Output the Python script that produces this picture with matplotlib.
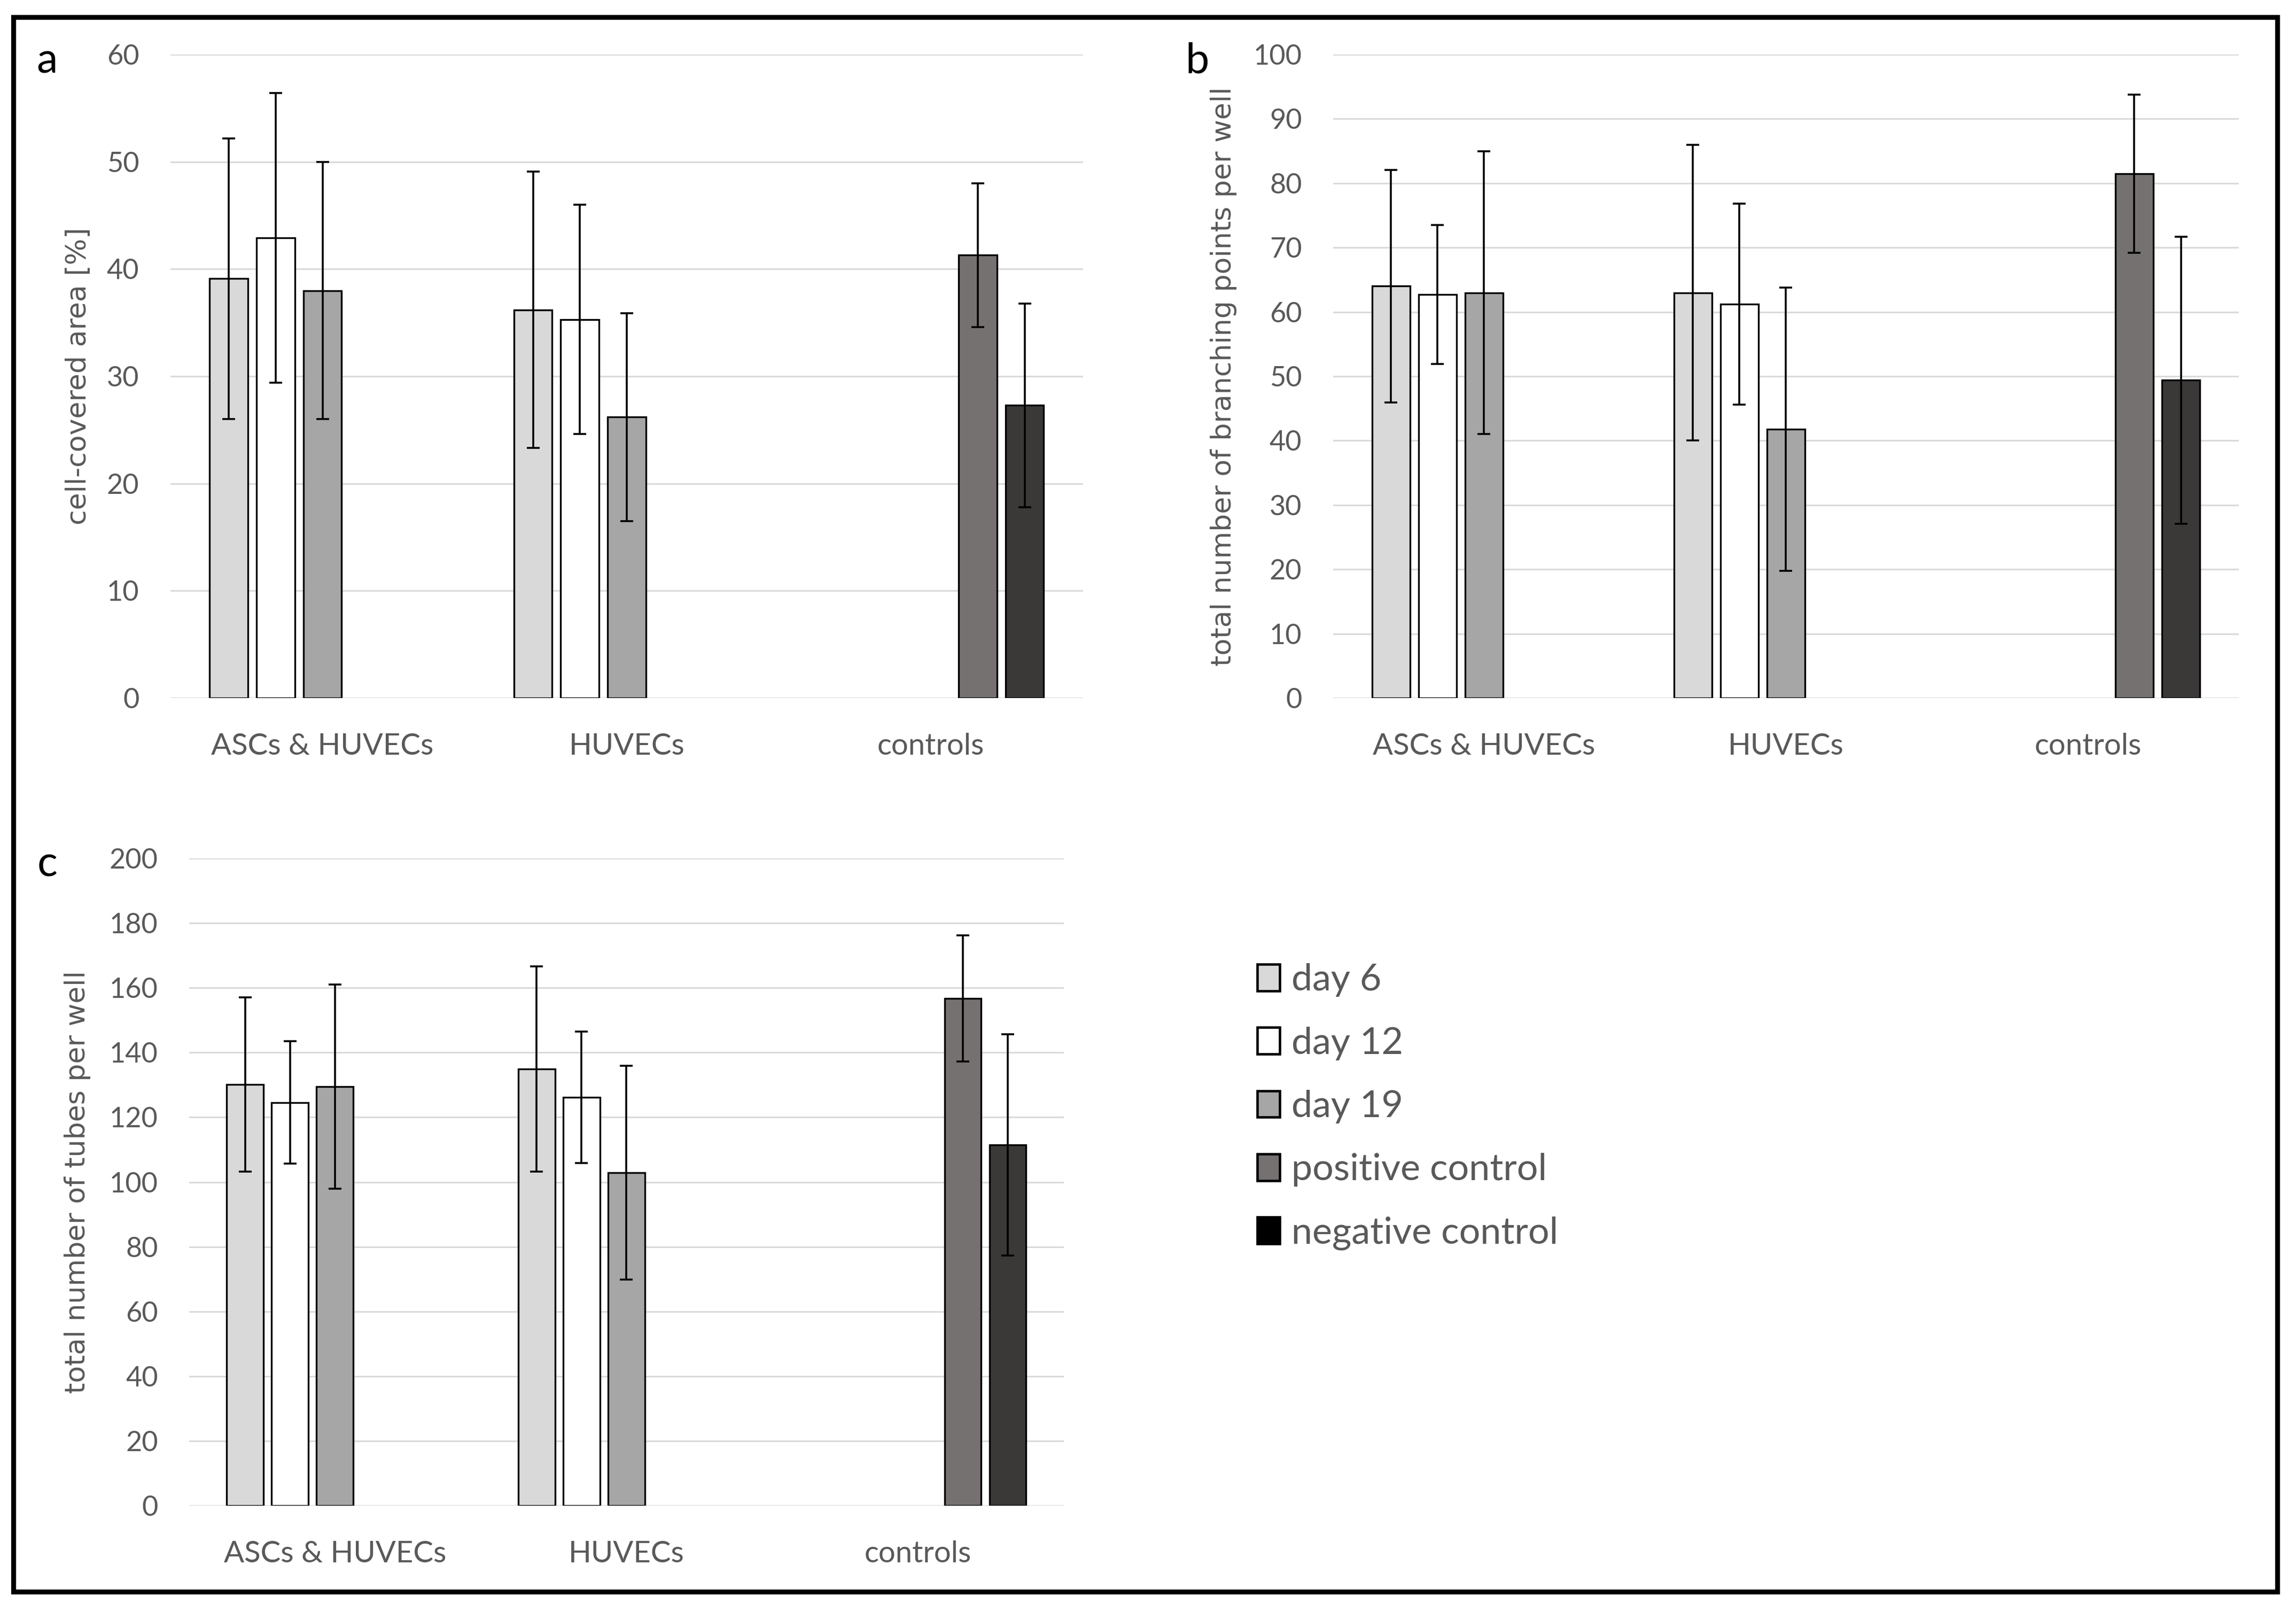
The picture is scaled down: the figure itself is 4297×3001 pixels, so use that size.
import numpy as np
import matplotlib.pyplot as plt
from matplotlib.patches import Patch, Rectangle

# Dane
categories = ['ASCs & HUVECs', 'HUVECs', 'controls']
series = ['day 6', 'day 12', 'day 19', 'positive control', 'negative control']
colors = ['#D9D9D9', '#FFFFFF', '#A6A6A6', '#767171', '#3B3838']
legend_colors = ['#D9D9D9', '#FFFFFF', '#A6A6A6', '#767171', '#000000']

# a - cell-covered area [%]  (None = brak słupka)
area_mean = [[39.1, 36.2, None],
             [42.9, 35.3, None],
             [38.0, 26.2, None],
             [None, None, 41.3],
             [None, None, 27.3]]
area_err = [[13.1, 12.9, None],
            [13.5, 10.7, None],
            [12.0, 9.7, None],
            [None, None, 6.7],
            [None, None, 9.5]]

# b - total number of branching points per well
branch_mean = [[64.0, 63.0, None],
               [62.7, 61.2, None],
               [63.0, 41.8, None],
               [None, None, 81.5],
               [None, None, 49.4]]
branch_err = [[18.1, 23.0, None],
              [10.8, 15.6, None],
              [22.0, 22.0, None],
              [None, None, 12.3],
              [None, None, 22.3]]

# c - total number of tubes per well
tubes_mean = [[130.1, 134.9, None],
              [124.6, 126.2, None],
              [129.5, 102.9, None],
              [None, None, 156.7],
              [None, None, 111.5]]
tubes_err = [[26.9, 31.7, None],
             [18.9, 20.3, None],
             [31.6, 33.0, None],
             [None, None, 19.5],
             [None, None, 34.2]]

grey_text = '#595959'
plt.rcParams['font.family'] = ['Lato', 'DejaVu Sans']

fig = plt.figure(figsize=(4297 / 300, 3001 / 300), dpi=300)


def draw_panel(rect, means, errs, ymax, ystep, ylabel, label_x):
    ax = fig.add_axes(rect)
    x = np.arange(len(categories))
    slot = 0.154
    width = 0.126
    for i in range(len(series)):
        xs, hs, es = [], [], []
        for j in range(len(categories)):
            if means[i][j] is not None:
                xs.append(x[j] + (i - 2) * slot)
                hs.append(means[i][j])
                es.append(errs[i][j])
        ax.bar(xs, hs, width, color=colors[i], edgecolor='black', linewidth=0.8, zorder=2)
        ax.errorbar(xs, hs, yerr=es, fmt='none', ecolor='black', elinewidth=0.85,
                    capsize=2.9, capthick=0.85, zorder=3)
    ax.set_xlim(-0.5, 2.5)
    ax.set_ylim(0, ymax)
    ax.set_yticks(np.arange(0, ymax + 1, ystep))
    ax.set_xticks(x)
    ax.set_xticklabels(categories, fontsize=13.5, color=grey_text)
    ax.tick_params(axis='y', length=0, pad=14, labelsize=12.5, labelcolor=grey_text)
    ax.tick_params(axis='x', length=0, pad=15.5)
    ax.yaxis.grid(True, color='#D9D9D9', linewidth=0.7)
    ax.set_axisbelow(True)
    for s in ax.spines.values():
        s.set_visible(False)
    ax.set_ylabel(ylabel, fontsize=12.5, color=grey_text, family='DejaVu Sans', va='center')
    ax.yaxis.set_label_coords(label_x, 0.5)
    return ax


draw_panel([0.0742, 0.5648, 0.3975, 0.4012], area_mean, area_err, 60, 10,
           'cell-covered area [%]', -0.101)
draw_panel([0.5806, 0.5648, 0.3945, 0.4012], branch_mean, branch_err, 100, 10,
           'total number of branching points per well', -0.121)
draw_panel([0.0824, 0.0613, 0.3809, 0.4035], tubes_mean, tubes_err, 200, 20,
           'total number of tubes per well', -0.128)

# litery paneli
fig.text(0.0205, 0.962, 'a', fontsize=19, color='black', va='center', ha='center')
fig.text(0.5214, 0.962, 'b', fontsize=19, color='black', va='center', ha='center')
fig.text(0.0205, 0.461, 'c', fontsize=19, color='black', va='center', ha='center')

# legenda
handles = [Patch(facecolor=legend_colors[i], edgecolor='black', linewidth=1.1) for i in range(len(series))]
fig.legend(handles, series, loc='center left', bbox_to_anchor=(0.5476, 0.310),
           frameon=False, fontsize=16.8, labelcolor=grey_text, handlelength=0.6,
           handleheight=0.72, handletextpad=0.32, labelspacing=0.79, borderpad=0,
           borderaxespad=0)

# ramka
fig.add_artist(Rectangle((0.00593, 0.00783), 0.99174 - 0.00593, 0.9895 - 0.00783,
                         transform=fig.transFigure, fill=False, edgecolor='black', linewidth=2.2))

plt.savefig('out.png', dpi=300)
